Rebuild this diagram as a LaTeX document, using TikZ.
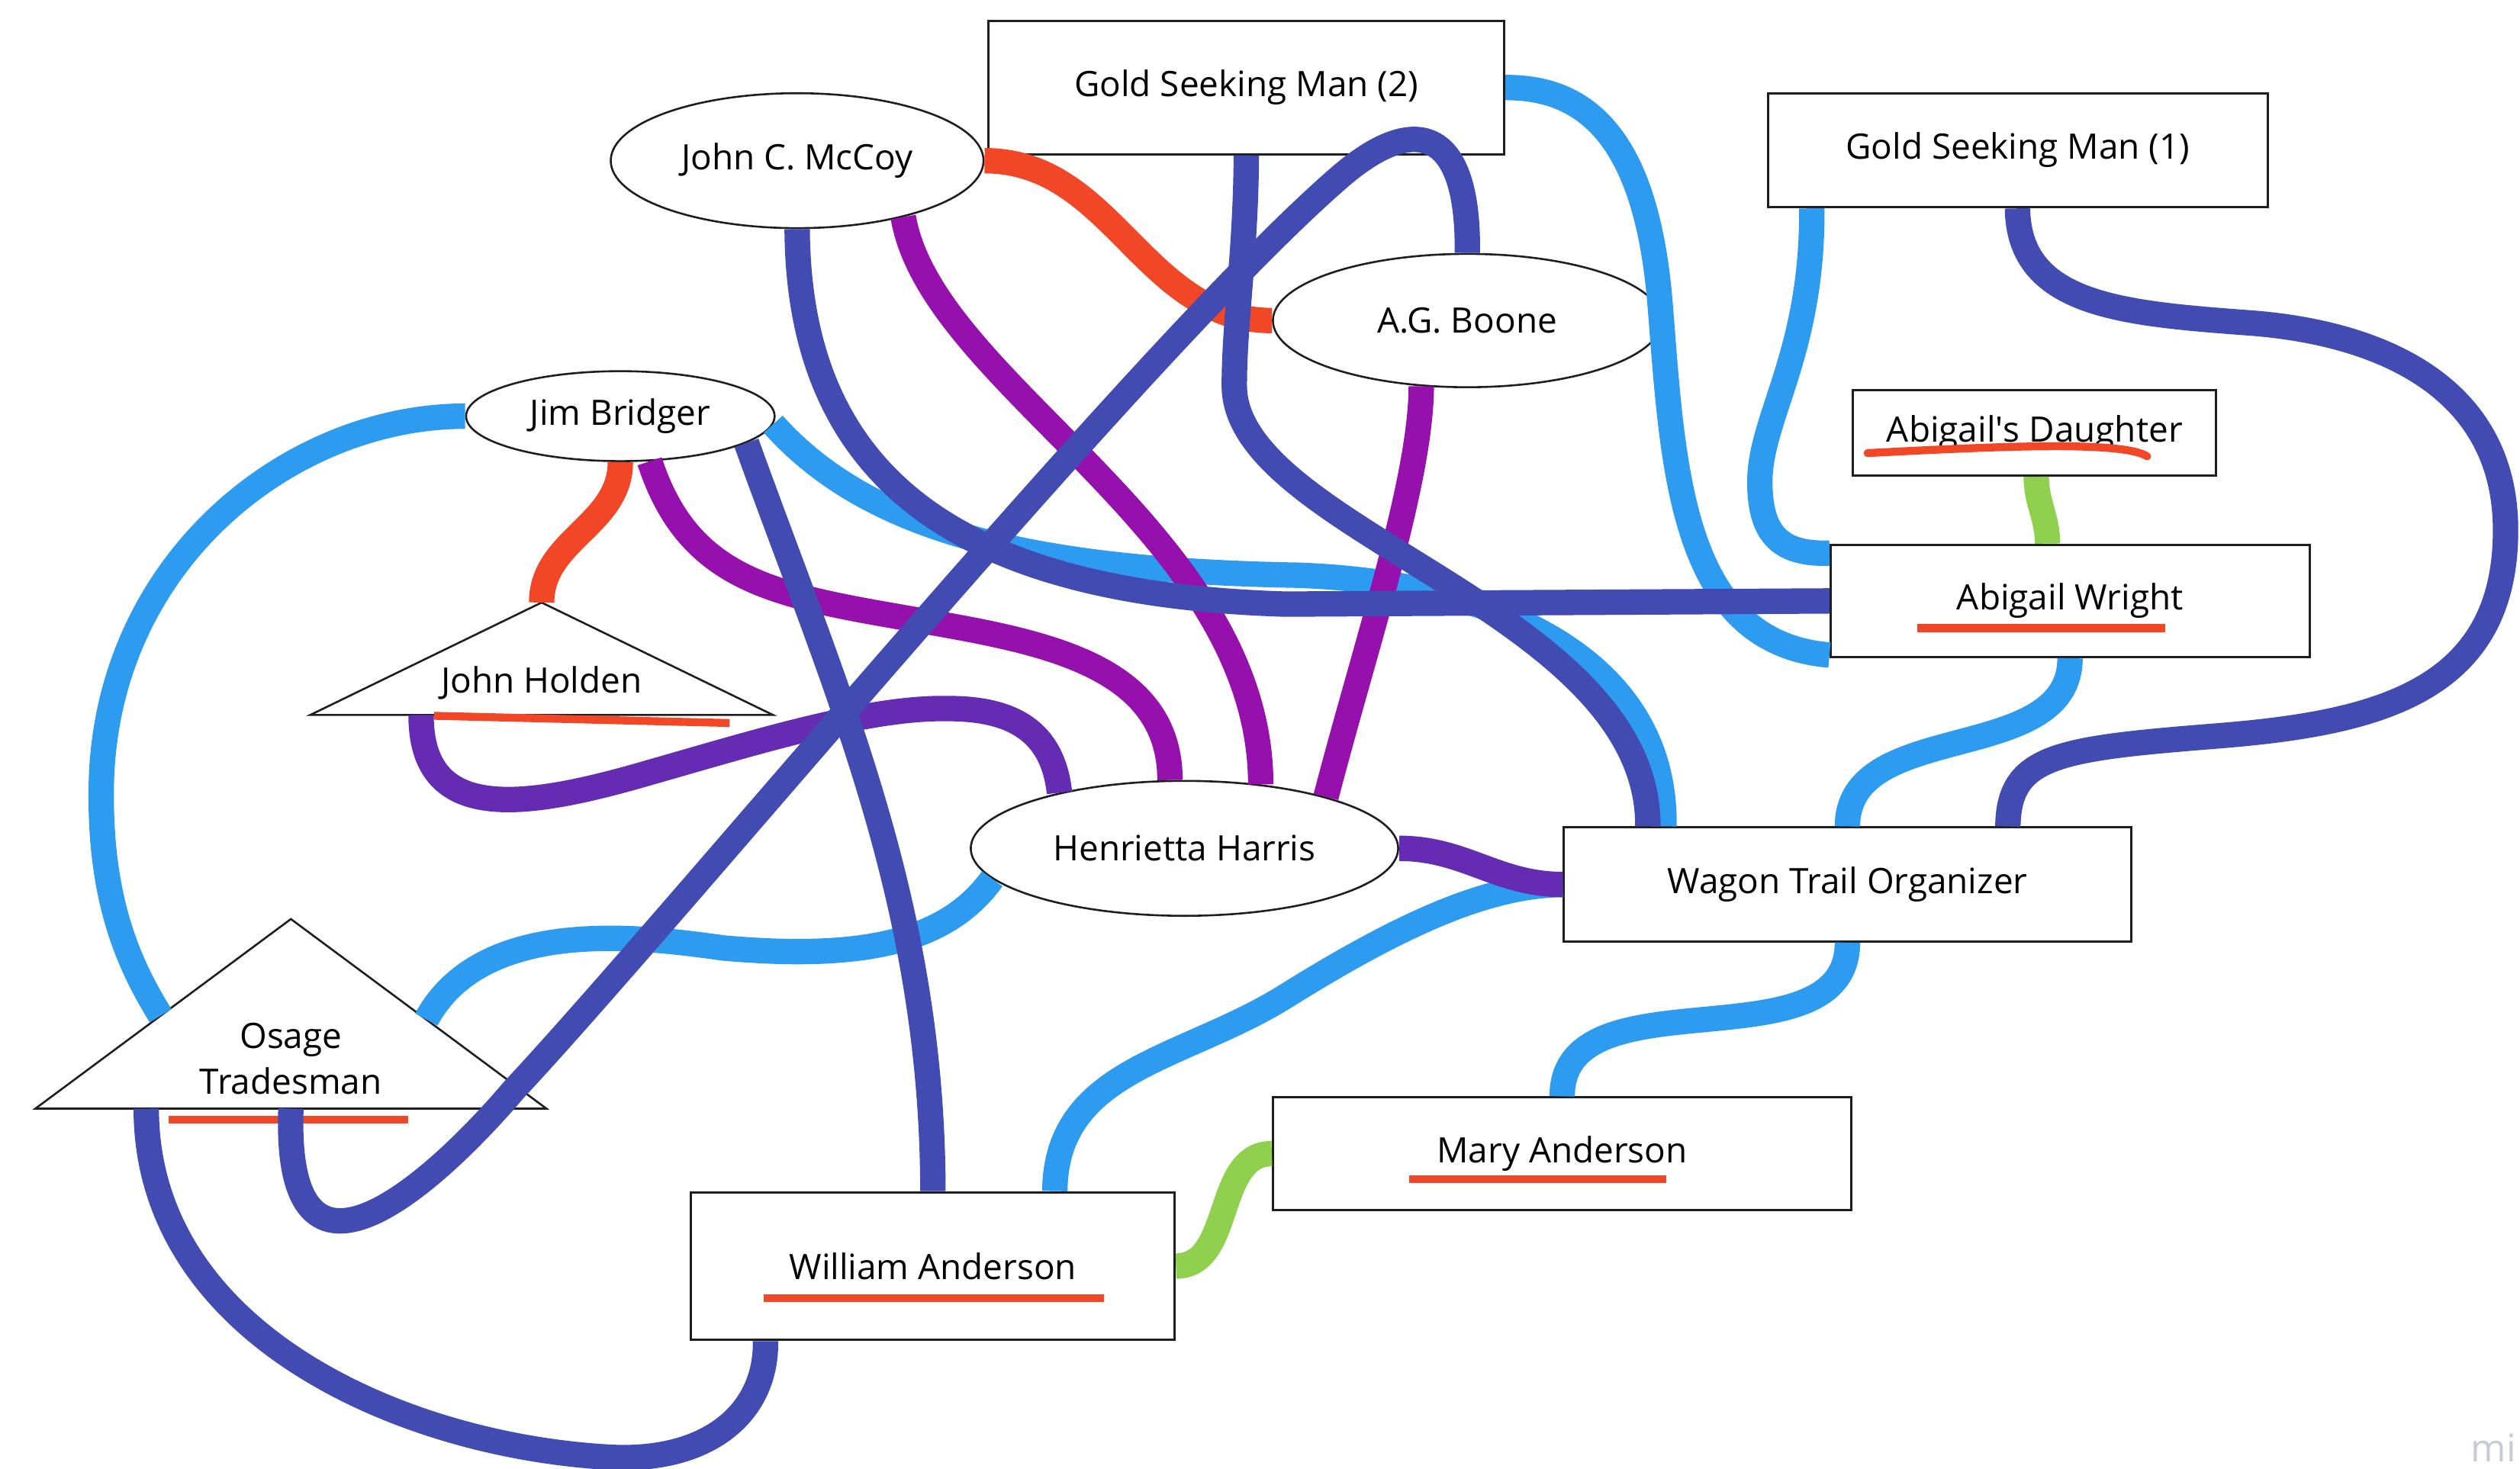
\documentclass[tikz,border=0pt]{standalone}
\usepackage{fontspec}
\setmainfont{Open Sans}
\usepackage{tikz}
\usetikzlibrary{shapes.geometric,calc}
\definecolor{linkblue}{RGB}{45,155,240}
\definecolor{linknavy}{RGB}{65,75,178}
\definecolor{linkplum}{RGB}{149,16,172}
\definecolor{linkgrape}{RGB}{101,44,179}
\definecolor{linkred}{RGB}{242,71,38}
\definecolor{linkgreen}{RGB}{143,209,79}
\definecolor{inkline}{RGB}{30,30,30}
\definecolor{brandgray}{RGB}{200,202,215}
\tikzstyle{box} = [draw=inkline, rectangle, fill=white, line width=0.8pt,
    inner sep=0pt]
\tikzstyle{oval} = [draw=inkline, ellipse, fill=white, line width=0.7pt,
    inner sep=0pt]
\tikzstyle{tri} = [draw=inkline, fill=white, line width=0.7pt]
\tikzstyle{link} = [line width=9pt]
\tikzstyle{underscore} = [line width=2.8pt, linkred]

\begin{document}
\begin{tikzpicture}[x=0.02cm, y=-0.02cm, font=\fontsize{12.4}{15}\selectfont]
  \useasboundingbox (0,0) rectangle (1568,914);
  % Place nodes
  \node [box, minimum width=6.42cm, minimum height=1.66cm] (gsm2) at (775.5,54.5) {Gold Seeking Man (2)};
  \node [box, minimum width=6.22cm, minimum height=1.42cm] (gsm1) at (1255.5,93.5) {Gold Seeking Man (1)};
  \node [oval, minimum width=4.64cm, minimum height=1.68cm] (mccoy) at (496,100) {John C. McCoy};
  \node [oval, minimum width=4.84cm, minimum height=1.66cm] (boone) at (913,199.5) {A.G. Boone};
  \node [oval, minimum width=3.84cm, minimum height=1.12cm] (bridger) at (386,259) {Jim Bridger};
  \node [box, minimum width=4.52cm, minimum height=1.06cm] (daughter) at (1266,269.5) {Abigail\textquotesingle s Daughter};
  \node [box, minimum width=5.96cm, minimum height=1.40cm] (wright) at (1288,374) {Abigail Wright};
  \node [oval, minimum width=5.32cm, minimum height=1.68cm] (henrietta) at (737,528) {Henrietta Harris};
  \node [box, minimum width=7.06cm, minimum height=1.42cm] (wagon) at (1149.5,550.5) {Wagon Trail Organizer};
  \node [box, minimum width=7.20cm, minimum height=1.40cm] (mary) at (972,718) {Mary Anderson};
  \node [box, minimum width=6.02cm, minimum height=1.84cm] (william) at (580.5,788) {William Anderson};

  % Triangles
  \coordinate (holden top) at (337,375);
  \coordinate (holden left) at (193,445);
  \coordinate (holden right) at (481,445);
  \draw [tri] (holden left) -- (holden top) -- (holden right) -- cycle;
  \node (holden) at (337,425) {John Holden};
  \coordinate (osage top) at (181,572);
  \coordinate (osage left) at (22,690);
  \coordinate (osage right) at (340,690);
  \draw [tri] (osage left) -- (osage top) -- (osage right) -- cycle;
  \node [align=center, font=\fontsize{12.4}{16.4}\selectfont] (osage) at (181,659) {Osage\\Tradesman};

  % Underlines
  \draw [underscore] (270,445.5) -- (454,450);
  \draw [underscore] (105,697) -- (254,697);
  \draw [underscore] (475,808) -- (687,808);
  \draw [underscore] (877,734) -- (1037,734);
  \draw [underscore] (1193,391) -- (1347,391);
  \draw [underscore, line cap=round] (1162,282) .. controls (1240,278) and (1320,274) .. (1336,284);

  % Light blue links
  \draw [link, linkblue] (bridger.west) .. controls (180,259) and (65,350) .. (63,490)
    .. controls (62,560) and (80,600) .. ($(osage left)!.49!(osage top)$);
  \draw [link, linkblue] (bridger.-3) .. controls (540,330) and (640,355) .. (807,358)
    .. controls (930,362) and (1037,410) .. ($(wagon.north west)+(63,0)$);
  \draw [link, linkblue] (henrietta.-171) .. controls (590,585) and (540,598) .. (450,590)
    .. controls (400,583) and (300,570) .. ($(osage right)!.47!(osage top)$);
  \draw [link, linkblue] (wagon.west) .. controls (930,551) and (880,570) .. (800,620)
    .. controls (736,660) and (657,665) .. ($(william.north west)+(227,0)$);
  \draw [link, linkblue] (wagon.south) to [out=-90, in=90] (mary.north);
  \draw [link, linkblue] (wright.south) to [out=-90, in=90] (wagon.north);
  \draw [link, linkblue] ($(gsm1.south west)+(28,0)$) .. controls (1128,220) and (1095,260) .. (1095,300)
    .. controls (1095,335) and (1110,345) .. ($(wright.north west)+(0,6)$);
  \draw [link, linkblue] (gsm2.east) .. controls (990,54) and (1025,90) .. (1033,190)
    .. controls (1041,290) and (1045,400) .. ($(wright.south west)+(0,-2)$);

  % Green links
  \draw [link, linkgreen] (william.east) to [out=0, in=180] (mary.west);
  \draw [link, linkgreen] ($(daughter.south)+(1,0)$) to [out=-90, in=90] ($(wright.north)+(-14,0)$);

  % Red links
  \draw [link, linkred] (mccoy.east) to [out=0, in=180] (boone.west);
  \draw [link, linkred] (bridger.south) to [out=-90, in=90] (holden top);

  % Purple links
  \draw [link, linkplum] (mccoy.-28) .. controls (580,240) and (784,330) .. (henrietta.40);
  \draw [link, linkplum] (boone.-125) .. controls (884,300) and (850,400) .. (henrietta.20);
  \draw [link, linkplum] (bridger.-57) .. controls (428,360) and (480,370) .. (560,384)
    .. controls (640,398) and (728,410) .. (henrietta.102);
  \draw [link, linkgrape] ($(holden left)+(69,0)$) .. controls (262,510) and (320,505) .. (400,482)
    .. controls (470,462) and (540,440) .. (590,441)
    .. controls (630,441) and (655,455) .. (henrietta.156);
  \draw [link, linkgrape] (henrietta.east) to [out=0, in=180] (wagon.west);

  % Dark blue links
  \draw [link, linknavy] (gsm2.south) .. controls (775,160) and (768,200) .. (768,240)
    .. controls (768,330) and (1026,380) .. ($(wagon.north west)+(53,0)$);
  \draw [link, linknavy] (mccoy.south) .. controls (497,300) and (600,370) .. (800,376) -- (wright.west);
  \draw [link, linknavy] (bridger.-12) .. controls (520,430) and (580,560) .. (william.north);
  \draw [link, linknavy] (boone.north) .. controls (914,80) and (881,70) .. (835,109)
    .. controls (715,212) and (420,571) .. (320,678)
    .. controls (281,724) and (176,830) .. ($(osage left)!.5!(osage right)$);
  \draw [link, linknavy] ($(gsm1.south west)+(156,0)$) .. controls (1256,190) and (1320,195) .. (1400,201)
    .. controls (1480,207) and (1559,240) .. (1559,330)
    .. controls (1559,430) and (1480,450) .. (1380,458)
    .. controls (1280,466) and (1250,470) .. ($(wagon.north west)+(277,0)$);
  \draw [link, linknavy] ($(osage left)+(69,0)$) .. controls (91,830) and (250,900) .. (380,907)
    .. controls (440,910) and (477,880) .. ($(william.south west)+(47,0)$);

  \node [anchor=base east, inner sep=0pt, text=brandgray, font=\fontsize{13.5}{16}\selectfont] (brand) at (1566,910) {mi};
\end{tikzpicture}
\end{document}
